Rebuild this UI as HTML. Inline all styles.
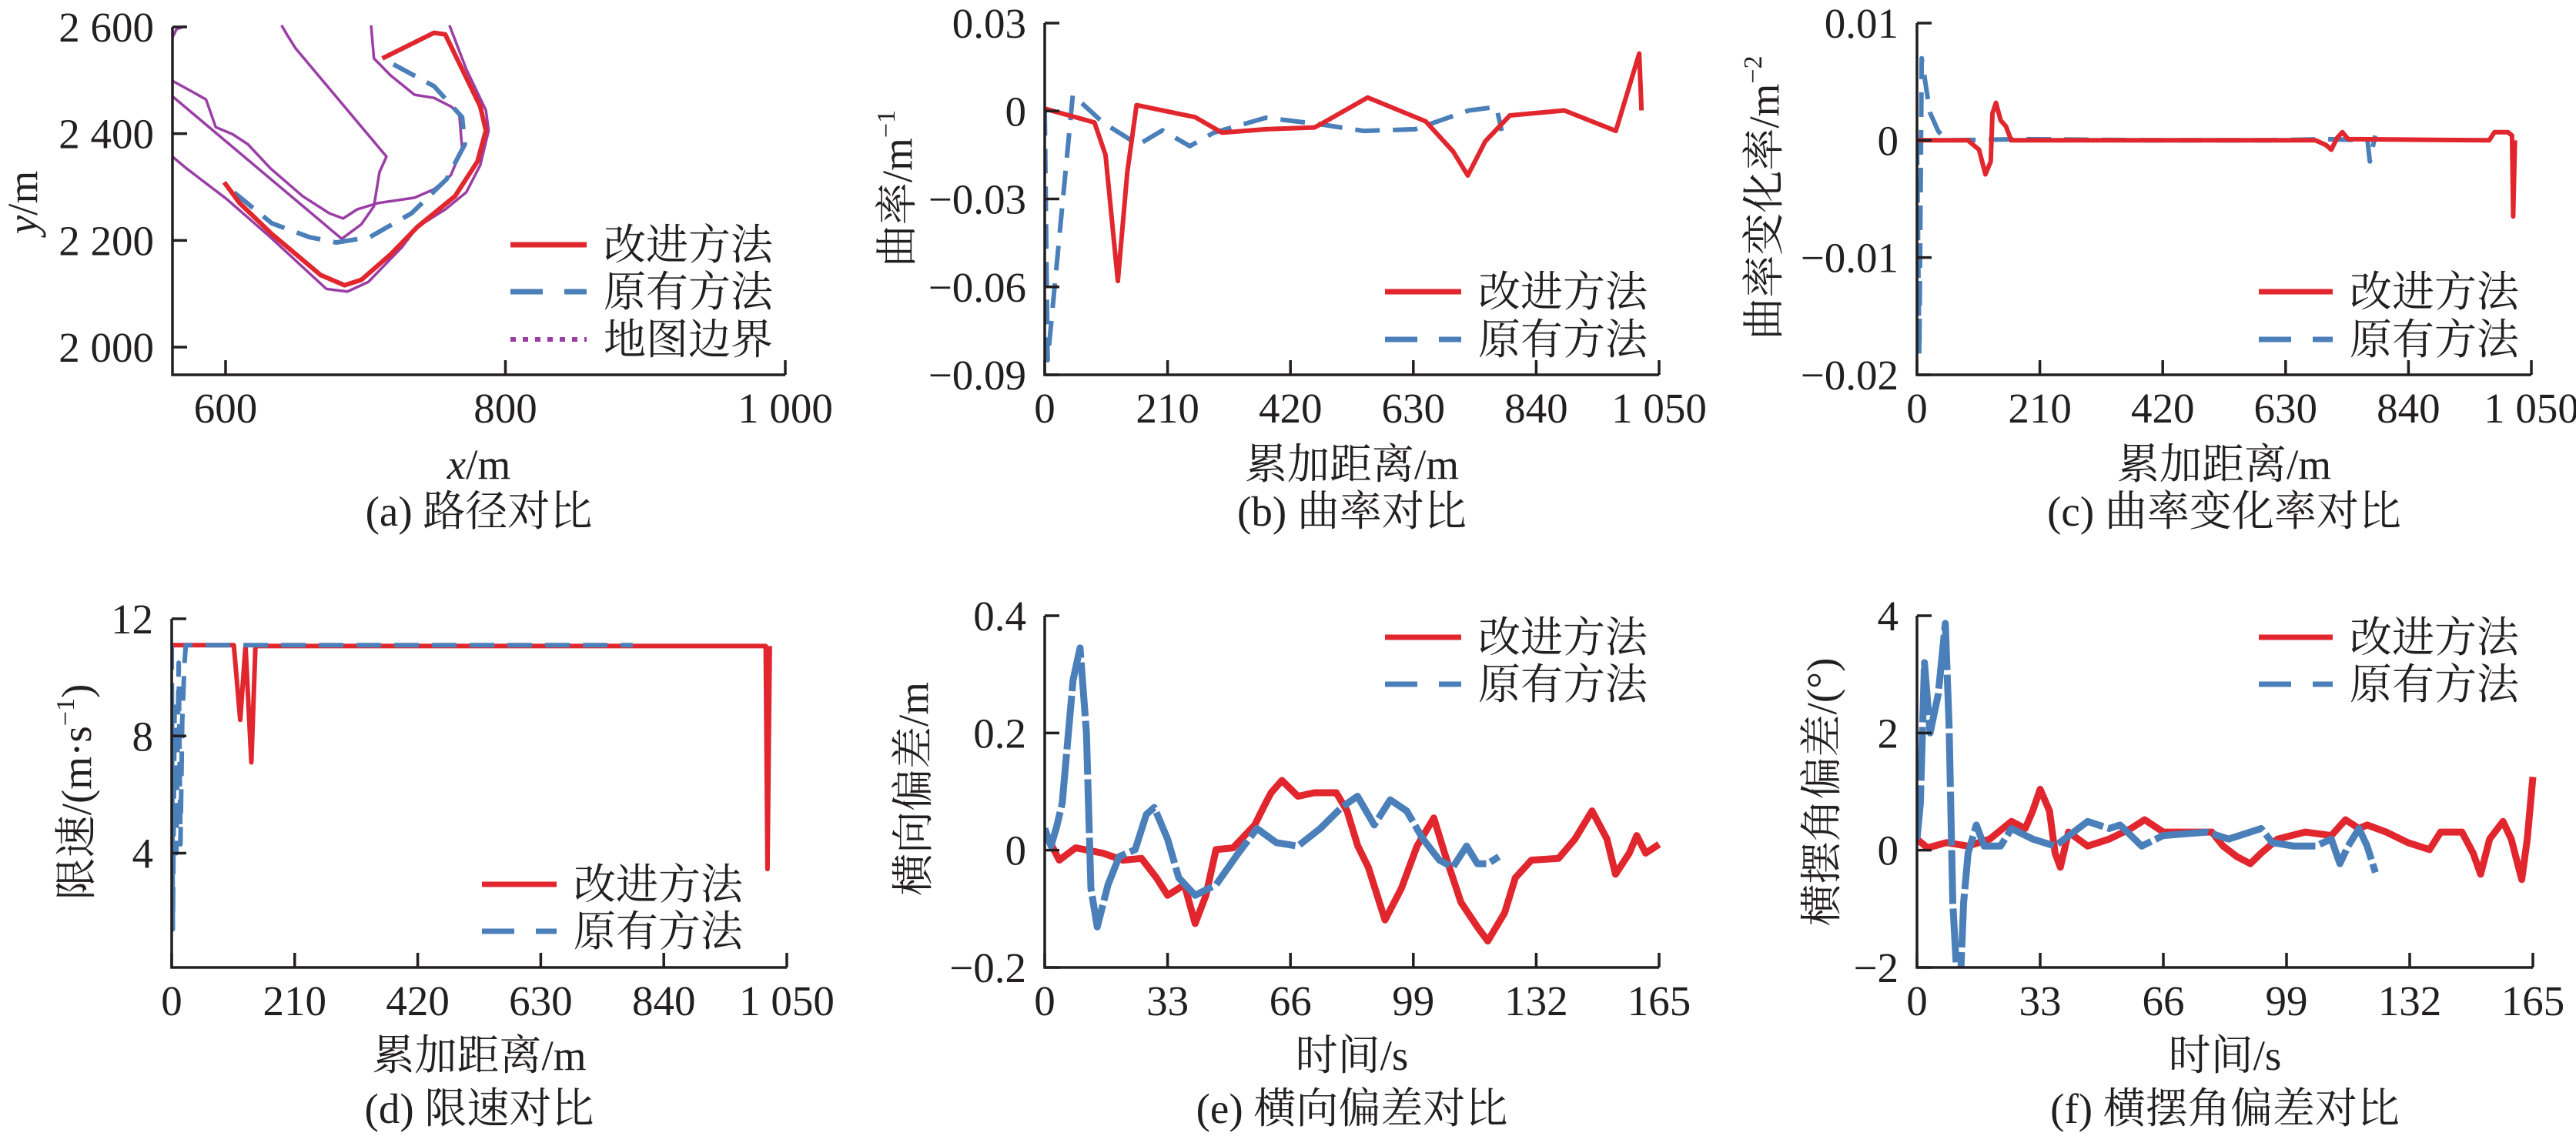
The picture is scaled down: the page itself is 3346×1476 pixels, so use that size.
<!DOCTYPE html>
<html><head><meta charset="utf-8">
<style>
html,body{margin:0;padding:0;background:#fff;}
svg{display:block;font-family:"Liberation Serif","Noto Serif CJK SC",serif;}
text{fill:#231f20;font-size:55px;}
</style></head>
<body>
<svg id="fig" width="3346" height="1476" viewBox="0 0 3346 1476" xmlns="http://www.w3.org/2000/svg">
<rect width="3346" height="1476" fill="#fff"/>
</svg>
<script>
// ---------- Panel (a) path data (x m, y m) ----------
const aRedX=[599,610,633,668,685,697,718,737,764,780,786,782,757,749,712];
const aRedY=[2309,2270,2212,2135,2116,2126,2174,2225,2283,2348,2406,2451,2586,2589,2541];
const aBlueX=[606,633,660,679,703,733,758,771,769,749,712];
const aBlueY=[2290,2232,2206,2196,2206,2251,2315,2380,2431,2489,2541];
const aB1X=[562,572,601,632,672,687,702,726,737,757,772,782,788,786,772,760];
const aB1Y=[2357,2335,2277,2206,2109,2104,2122,2187,2225,2258,2290,2341,2406,2444,2521,2603];
const aB2X=[562,578,586,593,605,616,632,655,674,684,694,709,735,749,761,769,767,761,749,735,718,706,704];
const aB2Y=[2499,2476,2464,2412,2399,2380,2335,2283,2251,2241,2258,2270,2280,2296,2322,2373,2438,2451,2467,2473,2509,2541,2603];
const aB3X=[562,683,697,706,710,715,650,644,640];
const aB3Y=[2470,2203,2230,2264,2328,2357,2560,2585,2603];
const aB4X=[562,565,571];
const aB4Y=[2580,2596,2601];
const aXTicks=[600,800,1000], aXLabels=["600","800","1 000"];
const aYTicks=[2000,2200,2400,2600], aYLabels=["2 000","2 200","2 400","2 600"];
// ---------- Panel (b) curvature ----------
const bRedX=[0,85,104,125,141,157,257,303,378,461,470,552,651,698,723,753,795,888,976,1016,1020];
const bRedY=[0.0008,-0.0039,-0.015,-0.058,-0.021,0.002,-0.0021,-0.0074,-0.0062,-0.0056,-0.0047,0.0046,-0.0035,-0.0138,-0.022,-0.0103,-0.0015,0.0002,-0.0068,0.0196,0.0002];
const bBlueX=[0,5,48,100,160,201,248,289,378,470,545,633,725,772,781];
const bBlueY=[0,-0.085,0.0055,-0.004,-0.0115,-0.0066,-0.012,-0.0074,-0.0023,-0.0045,-0.0068,-0.0062,0.0002,0.0014,-0.0068];
const dXTicks=[0,210,420,630,840,1050], dXLabels=["0","210","420","630","840","1 050"];
const bYTicks=[-0.09,-0.06,-0.03,0,0.03], bYLabels=["−0.09","−0.06","−0.03","0","0.03"];
// ---------- Panel (c) curvature rate ----------
const cRedX=[0,87,106,117,126,129,135,143,152,161,681,699,708,718,727,737,978,987,1010,1017,1019,1022];
const cRedY=[0,0,-0.0008,-0.0029,-0.0018,0.0023,0.0032,0.0017,0.0012,0,0,-0.0004,-0.0008,0.0002,0.0007,0.0001,0,0.0007,0.0007,0.0004,-0.0065,0];
const cBlueX=[0,4,8,22,36,50,180,400,600,700,770,774,783];
const cBlueY=[0,-0.0183,0.007,0.0024,0.0008,0,0.0001,0,0,0.0001,0,-0.0018,0.0004];
const cYTicks=[-0.02,-0.01,0,0.01], cYLabels=["−0.02","−0.01","0","0.01"];
// ---------- Panel (d) speed limit ----------
const dRedX=[0,106,117,126,136,143,1014,1017,1021];
const dRedY=[11.1,11.1,8.55,11.07,7.1,11.07,11.07,3.46,11.07];
const dBlueX=[0,2,5,8,12,15,18,22,24,400,787];
const dBlueY=[11.1,1.4,9,4,10.5,4.3,8.5,10.5,11.1,11.1,11.1];
const dYTicks=[4,8,12], dYLabels=["4","8","12"];
// ---------- Panel (e) lateral error ----------
const eRedT=[0,3.9,8.3,15.6,21,26,30,33,37.5,40.4,43.3,46,50.6,56.4,59.3,60.8,63.7,68,72.4,78.3,81.2,84.1,86.9,91.4,95.8,100,104.5,107.4,111.8,116.2,119,123.5,126.4,130.7,138,142.4,147,151,153.3,157,159,161.4,165];
const eRedV=[0.031,-0.017,0.004,-0.005,-0.017,-0.014,-0.047,-0.077,-0.059,-0.125,-0.077,0.001,0.004,0.043,0.08,0.098,0.119,0.092,0.098,0.098,0.067,0.007,-0.029,-0.119,-0.065,0.007,0.055,-0.005,-0.089,-0.131,-0.155,-0.107,-0.047,-0.017,-0.014,0.019,0.067,0.019,-0.041,-0.005,0.025,-0.005,0.01];
const eBlueT=[0,1.7,3.2,4.7,7.6,9.5,11.2,12.4,14.1,17,20,24.3,27.3,29.4,33,36,40.4,46,52,57,62.2,68,74,79.7,84,88.5,92.8,97.2,101.6,106,109.6,113.3,116.2,119,122];
const eBlueV=[0.037,0.007,0.04,0.08,0.29,0.345,0.2,-0.065,-0.131,-0.059,-0.011,0.001,0.061,0.073,0.019,-0.047,-0.077,-0.059,-0.005,0.037,0.013,0.007,0.037,0.073,0.092,0.043,0.086,0.067,0.019,-0.017,-0.029,0.007,-0.023,-0.023,-0.011];
const tXTicks=[0,33,66,99,132,165], tXLabels=["0","33","66","99","132","165"];
const eYTicks=[-0.2,0,0.2,0.4], eYLabels=["−0.2","0","0.2","0.4"];
// ---------- Panel (f) yaw error ----------
const fRedT=[0,2.8,7.9,13.7,19.5,25.3,29,31,33,35.5,37,38.4,40.6,45.7,51.5,57.3,61,66,73.3,79,82,85.7,89.3,92.2,96.6,104,111,114.8,118.4,120.6,125.7,131.5,137.3,140.3,146,149,151,153.4,157,159.2,162,163.5,165];
const fRedV=[0.19,0.04,0.13,0.07,0.19,0.49,0.37,0.67,1.04,0.67,-0.05,-0.29,0.31,0.07,0.19,0.37,0.52,0.31,0.31,0.31,0.07,-0.11,-0.23,-0.05,0.19,0.31,0.25,0.52,0.37,0.43,0.31,0.13,0.01,0.31,0.31,-0.05,-0.41,0.19,0.49,0.19,-0.5,0.19,1.25];
const fBlueT=[0,0.9,2,3.5,5.7,7.6,8.6,9.6,10.8,11.6,12.5,13.7,15.9,18,22.4,25.3,31,37,45.7,51.5,54.4,60.2,66,77.7,83.5,92.2,95.2,101,106.8,111,113.3,115.5,118.4,120.6,122.8];
const fBlueV=[0.19,0.8,3.2,2.0,2.66,3.87,2.12,-0.89,-2.3,-2.3,-0.89,-0.05,0.43,0.07,0.07,0.37,0.19,0.07,0.49,0.37,0.43,0.07,0.25,0.31,0.19,0.37,0.13,0.07,0.07,0.19,-0.23,0.07,0.37,0.07,-0.38];
const fYTicks=[-2,0,2,4], fYLabels=["−2","0","2","4"];

const RED="#e1262e", BLUE="#4a7fb9", PURPLE="#9a3ea6", INK="#231f20";
const NS="http://www.w3.org/2000/svg";
const svg=document.getElementById('fig');
function mk(tag,attrs,parent){const e=document.createElementNS(NS,tag);for(const k in attrs)e.setAttribute(k,attrs[k]);(parent||svg).appendChild(e);return e;}
function scale(d0,d1,r0,r1){return v=>r0+(v-d0)/(d1-d0)*(r1-r0);}

function panel(p){
  const g=mk('g',{});
  
  
  const X=scale(p.xd[0],p.xd[1],p.xr[0],p.xr[1]);
  const Y=scale(p.yd[0],p.yd[1],p.yr[0],p.yr[1]);
  const L=p.axL, R=p.axR, T=p.axT, B=p.axB;
  const cid='clip-'+p.name;
  const cp=mk('clipPath',{id:cid},g);
  mk('rect',{x:L,y:T-20,width:R-L+10,height:B-T+20},cp);
  const sg=mk('g',{'clip-path':'url(#'+cid+')'},g);
  
  
  p.series.forEach(s=>{
    const d=s.x.map((v,i)=>(i?'L':'M')+X(v).toFixed(1)+' '+Y(s.y[i]).toFixed(1)).join(' ');
    const el=mk('path',{d:d,fill:'none',stroke:s.color,'stroke-width':s.w||6,'stroke-linejoin':'round','stroke-linecap':'butt'},sg);
    if(s.dash) el.setAttribute('stroke-dasharray',s.dash);
    
    
  });
  const ax=mk('path',{d:`M${L} ${T} L${L} ${B} L${R} ${B}`,fill:'none',stroke:INK,'stroke-width':3.5},g);
  
  
  p.xt.forEach((v,i)=>{
    const x=X(v);
    const t=mk('line',{x1:x,y1:B,x2:x,y2:B-19,stroke:INK,'stroke-width':3.5},g);
    
    
    const tx=mk('text',{x:x,y:p.xlabY,'text-anchor':'middle'},g);
    tx.textContent=p.xl[i];
    
    
  });
  p.yt.forEach((v,i)=>{
    const y=Y(v);
    const t=mk('line',{x1:L,y1:y,x2:L+19,y2:y,stroke:INK,'stroke-width':3.5},g);
    
    
    const tx=mk('text',{x:L-24,y:y+19,'text-anchor':'end'},g);
    tx.textContent=p.yl[i];
    
    
  });
  const xt=mk('text',{x:(L+R)/2,y:p.xtitleY,'text-anchor':'middle'},g);
  xt.innerHTML=p.xtitle;
  
  
  const yt=mk('text',{x:0,y:0,'text-anchor':'middle',transform:`translate(${p.ytx} ${p.yty}) rotate(-90)`},g);
  yt.innerHTML=p.ytitle;
  
  
  const pt=mk('text',{x:(L+R)/2,y:p.ptitleY,'text-anchor':'middle'},g);
  pt.textContent=p.ptitle;
  
  
  p.legend.forEach(le=>{
    const lg=mk('g',{},g);
    
    
    const ln=mk('line',{x1:p.lx0,y1:le.y,x2:p.lx1,y2:le.y,stroke:le.color,'stroke-width':le.w||7},lg);
    if(le.dash) ln.setAttribute('stroke-dasharray',le.dash);
    const tx=mk('text',{x:p.lx1+22,y:le.y+19},lg);
    tx.textContent=le.label;
  });
}
const rowYLab1=549, rowXT1=622, rowPT1=683;
const rowYLab2=1319, rowXT2=1390, rowPT2=1459;
const DASH="32 17", LDASH="42 28";

panel({name:'panel-a-path',xd:[600,1000],xr:[293,1020],yd:[2000,2600],yr:[451,35],axL:224,axR:1020,axT:35,axB:487,
  xt:aXTicks,xl:aXLabels,yt:aYTicks,yl:aYLabels,xlabY:rowYLab1,xtitleY:rowXT1,ptitleY:rowPT1,
  xtitle:'<tspan font-style="italic">x</tspan>/m',ytitle:'<tspan font-style="italic">y</tspan>/m',ytx:48,yty:263,ptitle:'(a) 路径对比',
  series:[
   {name:'map-boundary-1',x:aB1X,y:aB1Y,color:PURPLE,w:3.5},
   {name:'map-boundary-2',x:aB2X,y:aB2Y,color:PURPLE,w:3.5},
   {name:'map-boundary-3',x:aB3X,y:aB3Y,color:PURPLE,w:3.5},
   {name:'map-boundary-4',x:aB4X,y:aB4Y,color:PURPLE,w:3.5},
   {name:'original-path',x:aBlueX,y:aBlueY,color:BLUE,dash:DASH,w:6},
   {name:'improved-path',x:aRedX,y:aRedY,color:RED,w:6}],
  lx0:663,lx1:762,legend:[{y:318,color:RED,label:'改进方法'},{y:379,color:BLUE,dash:LDASH,label:'原有方法'},{y:441,color:PURPLE,dash:'7 9',label:'地图边界',w:6}]});

panel({name:'panel-b-curvature',xd:[0,1050],xr:[1357,2155],yd:[-0.09,0.03],yr:[487,30],axL:1357,axR:2155,axT:30,axB:487,
  xt:dXTicks,xl:dXLabels,yt:bYTicks,yl:bYLabels,xlabY:rowYLab1,xtitleY:rowXT1,ptitleY:rowPT1,
  xtitle:'累加距离/m',ytitle:'曲率/m<tspan dy="-22" font-size="34">−1</tspan>',ytx:1184,yty:245,ptitle:'(b) 曲率对比',
  series:[{name:'original-curvature',x:bBlueX,y:bBlueY,color:BLUE,dash:DASH},{name:'improved-curvature',x:bRedX,y:bRedY,color:RED}],
  lx0:1799,lx1:1898,legend:[{y:379,color:RED,label:'改进方法'},{y:441,color:BLUE,dash:LDASH,label:'原有方法'}]});

panel({name:'panel-c-curvature-rate',xd:[0,1050],xr:[2490,3288],yd:[-0.02,0.01],yr:[487,30],axL:2490,axR:3288,axT:30,axB:487,
  xt:dXTicks,xl:dXLabels,yt:cYTicks,yl:cYLabels,xlabY:rowYLab1,xtitleY:rowXT1,ptitleY:rowPT1,
  xtitle:'累加距离/m',ytitle:'曲率变化率/m<tspan dy="-22" font-size="34">−2</tspan>',ytx:2310,yty:257,ptitle:'(c) 曲率变化率对比',
  series:[{name:'original-curvature-rate',x:cBlueX,y:cBlueY,color:BLUE,dash:DASH},{name:'improved-curvature-rate',x:cRedX,y:cRedY,color:RED}],
  lx0:2934,lx1:3030,legend:[{y:379,color:RED,label:'改进方法'},{y:441,color:BLUE,dash:LDASH,label:'原有方法'}]});

panel({name:'panel-d-speed-limit',xd:[0,1050],xr:[223,1022],yd:[0.1,12],yr:[1257,804],axL:223,axR:1022,axT:804,axB:1257,
  xt:dXTicks,xl:dXLabels,yt:dYTicks,yl:dYLabels,xlabY:rowYLab2,xtitleY:rowXT2,ptitleY:rowPT2,
  xtitle:'累加距离/m',ytitle:'限速/(m·s<tspan dy="-22" font-size="34">−1</tspan><tspan dy="22">)</tspan>',ytx:118,yty:1029,ptitle:'(d) 限速对比',
  series:[{name:'improved-speed',x:dRedX,y:dRedY,color:RED},{name:'original-speed',x:dBlueX,y:dBlueY,color:BLUE,dash:DASH}],
  lx0:626,lx1:723,legend:[{y:1149,color:RED,label:'改进方法'},{y:1210,color:BLUE,dash:LDASH,label:'原有方法'}]});

panel({name:'panel-e-lateral-error',xd:[0,165],xr:[1357,2155],yd:[-0.2,0.4],yr:[1257,800],axL:1357,axR:2155,axT:800,axB:1257,
  xt:tXTicks,xl:tXLabels,yt:eYTicks,yl:eYLabels,xlabY:rowYLab2,xtitleY:rowXT2,ptitleY:rowPT2,
  xtitle:'时间/s',ytitle:'横向偏差/m',ytx:1205,yty:1025,ptitle:'(e) 横向偏差对比',
  series:[{name:'improved-lateral',x:eRedT,y:eRedV,color:RED,w:9},{name:'original-lateral',x:eBlueT,y:eBlueV,color:BLUE,w:9,dash:'70 6'}],
  lx0:1799,lx1:1898,legend:[{y:828,color:RED,label:'改进方法'},{y:889,color:BLUE,dash:LDASH,label:'原有方法'}]});

panel({name:'panel-f-yaw-error',xd:[0,165],xr:[2490,3290],yd:[-2,4],yr:[1257,800],axL:2490,axR:3290,axT:800,axB:1257,
  xt:tXTicks,xl:tXLabels,yt:fYTicks,yl:fYLabels,xlabY:rowYLab2,xtitleY:rowXT2,ptitleY:rowPT2,
  xtitle:'时间/s',ytitle:'横摆角偏差/(°)',ytx:2385,yty:1029,ptitle:'(f) 横摆角偏差对比',
  series:[{name:'improved-yaw',x:fRedT,y:fRedV,color:RED,w:9},{name:'original-yaw',x:fBlueT,y:fBlueV,color:BLUE,w:9,dash:'70 6'}],
  lx0:2934,lx1:3030,legend:[{y:828,color:RED,label:'改进方法'},{y:889,color:BLUE,dash:LDASH,label:'原有方法'}]});
</script>
</body></html>
